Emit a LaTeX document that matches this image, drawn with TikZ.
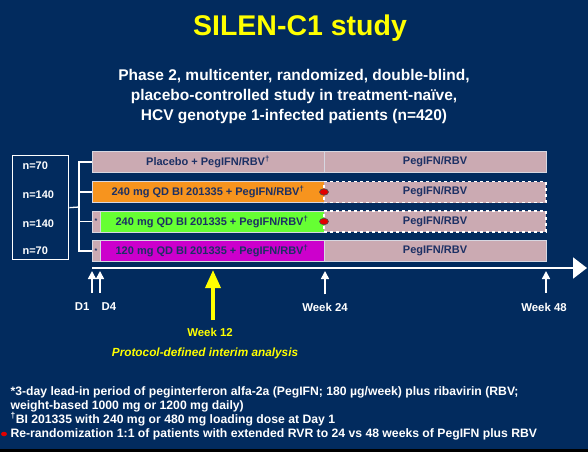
\documentclass[tikz,border=0pt]{standalone}
\usepackage{fontspec}
\setmainfont{Liberation Sans}
\usepackage{tikz}
\usetikzlibrary{positioning, arrows.meta, shapes.geometric}
\definecolor{bgnavy}{RGB}{2,43,94}
\definecolor{pinkbar}{RGB}{203,170,178}
\definecolor{orangebar}{RGB}{247,148,30}
\definecolor{greenbar}{RGB}{102,255,51}
\definecolor{magentabar}{RGB}{204,0,204}
\definecolor{bartext}{RGB}{28,48,100}
\definecolor{barline}{RGB}{215,215,225}
\definecolor{hiyellow}{RGB}{255,255,0}
\definecolor{dotred}{RGB}{225,0,0}

\begin{document}
\begin{tikzpicture}[x=1pt, y=-1pt, >=Latex,
    bar/.style={draw=barline, line width=0.7pt, minimum height=21pt, inner sep=0pt, outer sep=0pt, anchor=west, text=bartext, font=\fontsize{11}{12}\selectfont\bfseries},
    dashbar/.style={bar, draw=white, dashed, line width=1.1pt},
    nlabel/.style={anchor=west, text=white, font=\fontsize{11}{13}\selectfont\bfseries},
    tlabel/.style={text=white, font=\fontsize{11.4}{13}\selectfont\bfseries},
    tick/.style={-{Triangle[width=8pt, length=8pt]}, white, line width=1.6pt},
    reddot/.style={ellipse, draw=black!70, fill=dotred, line width=0.6pt, minimum width=9pt, minimum height=6.5pt, inner sep=0pt}]
    \fill[bgnavy] (0,0) rectangle (588,452);
    \useasboundingbox (0,0) rectangle (588,452);
    \fill[black] (0,449) rectangle (588,452);

    \node[text=hiyellow, font=\fontsize{28.5}{32}\selectfont\bfseries] (title) at (300,28) {SILEN-C1 study};
    \node[text=white, align=center, font=\fontsize{15.5}{20}\selectfont\bfseries] (subtitle) at (294,97)
      {Phase 2, multicenter, randomized, double-blind,\\ placebo-controlled study in treatment-naïve,\\ HCV genotype 1-infected patients (n=420)};

    \node[draw=white, line width=1.3pt, minimum width=56pt, minimum height=104pt, anchor=north west] (nbox) at (12,155) {};
    \node[nlabel] (n1) at (19,166) {n=70};
    \node[nlabel] (n2) at (19,195) {n=140};
    \node[nlabel] (n3) at (19,224) {n=140};
    \node[nlabel] (n4) at (19,251) {n=70};

    \node[bar, fill=pinkbar, minimum width=232pt] (plac) at (92,162) {Placebo + PegIFN/RBV\textsuperscript{\textdagger}};
    \node[bar, fill=pinkbar, minimum width=222pt, right=0pt of plac] (plac2) {PegIFN/RBV};
    \node[bar, fill=orangebar, minimum width=232pt] (arm2) at (92,192) {240 mg QD BI 201335 + PegIFN/RBV\textsuperscript{\textdagger}};
    \node[dashbar, fill=pinkbar, minimum width=222pt, right=0pt of arm2] (arm2b) {PegIFN/RBV};
    \node[bar, fill=pinkbar, minimum width=8pt, font=\fontsize{7}{8}\selectfont\bfseries] (lead3) at (92,221.5) {*};
    \node[bar, fill=greenbar, minimum width=224pt, right=0pt of lead3] (arm3) {240 mg QD BI 201335 + PegIFN/RBV\textsuperscript{\textdagger}};
    \node[dashbar, fill=pinkbar, minimum width=222pt, right=0pt of arm3] (arm3b) {PegIFN/RBV};
    \node[bar, fill=pinkbar, minimum width=8pt, font=\fontsize{7}{8}\selectfont\bfseries] (lead4) at (92,251) {*};
    \node[bar, fill=magentabar, minimum width=224pt, right=0pt of lead4] (arm4) {120 mg QD BI 201335 + PegIFN/RBV\textsuperscript{\textdagger}};
    \node[bar, fill=pinkbar, minimum width=222pt, right=0pt of arm4] (arm4b) {PegIFN/RBV};
    \node[reddot] (rr2) at (arm2.east) {};
    \node[reddot] (rr3) at (arm3.east) {};

    \coordinate (fork) at (79,207);
    \draw[white, line width=1.3pt] (nbox.east) -- (fork);
    \draw[white, line width=1.3pt] (fork) |- (plac.west);
    \draw[white, line width=1.3pt] (fork) |- (arm2.west);
    \draw[white, line width=1.3pt] (fork) |- (lead3.west);
    \draw[white, line width=1.3pt] (fork) |- (lead4.west);

    \coordinate (t0) at (92,268);
    \coordinate (t1) at (587,268);
    \draw[white, line width=2pt, -{Triangle[width=21pt, length=14pt]}] (t0) -- (t1);

    \node[tlabel, anchor=east] (d1) at (93,307) {D1};
    \node[tlabel, anchor=west] (d4) at (98,307) {D4};
    \node[tlabel] (w24) at (325,307) {Week 24};
    \node[tlabel] (w48) at (544,307) {Week 48};
    \draw[tick] (92,293) -- (92,271);
    \draw[tick] (100,293) -- (100,271);
    \draw[tick] (w24.north) ++(0,-5) -- (325,271);
    \draw[tick] (546,293) -- (546,271);

    \node[text=hiyellow, font=\fontsize{11.4}{13}\selectfont\bfseries] (w12) at (210,332) {Week 12};
    \node[text=hiyellow, font=\fontsize{11.8}{13}\selectfont\bfseries\itshape] (interim) at (205,353) {Protocol-defined interim analysis};
    \draw[hiyellow, line width=3.5pt, -{Triangle[width=15pt, length=18pt]}] (213,320) -- (213,270);

    \node[text=white, anchor=west, align=left, font=\fontsize{12.2}{14}\selectfont\bfseries] (notes) at (7,413)
      {*3-day lead-in period of peginterferon alfa-2a (PegIFN; 180 µg/week) plus ribavirin (RBV;\\
       weight-based 1000 mg or 1200 mg daily)\\
       \textsuperscript{\textdagger}BI 201335 with 240 mg or 480 mg loading dose at Day 1\\
       Re-randomization 1:1 of patients with extended RVR to 24 vs 48 weeks of PegIFN plus RBV};
    \node[ellipse, fill=dotred, minimum width=6pt, minimum height=4.5pt, inner sep=0pt] (rdot) at (4,434) {};
  \end{tikzpicture}
\end{document}
